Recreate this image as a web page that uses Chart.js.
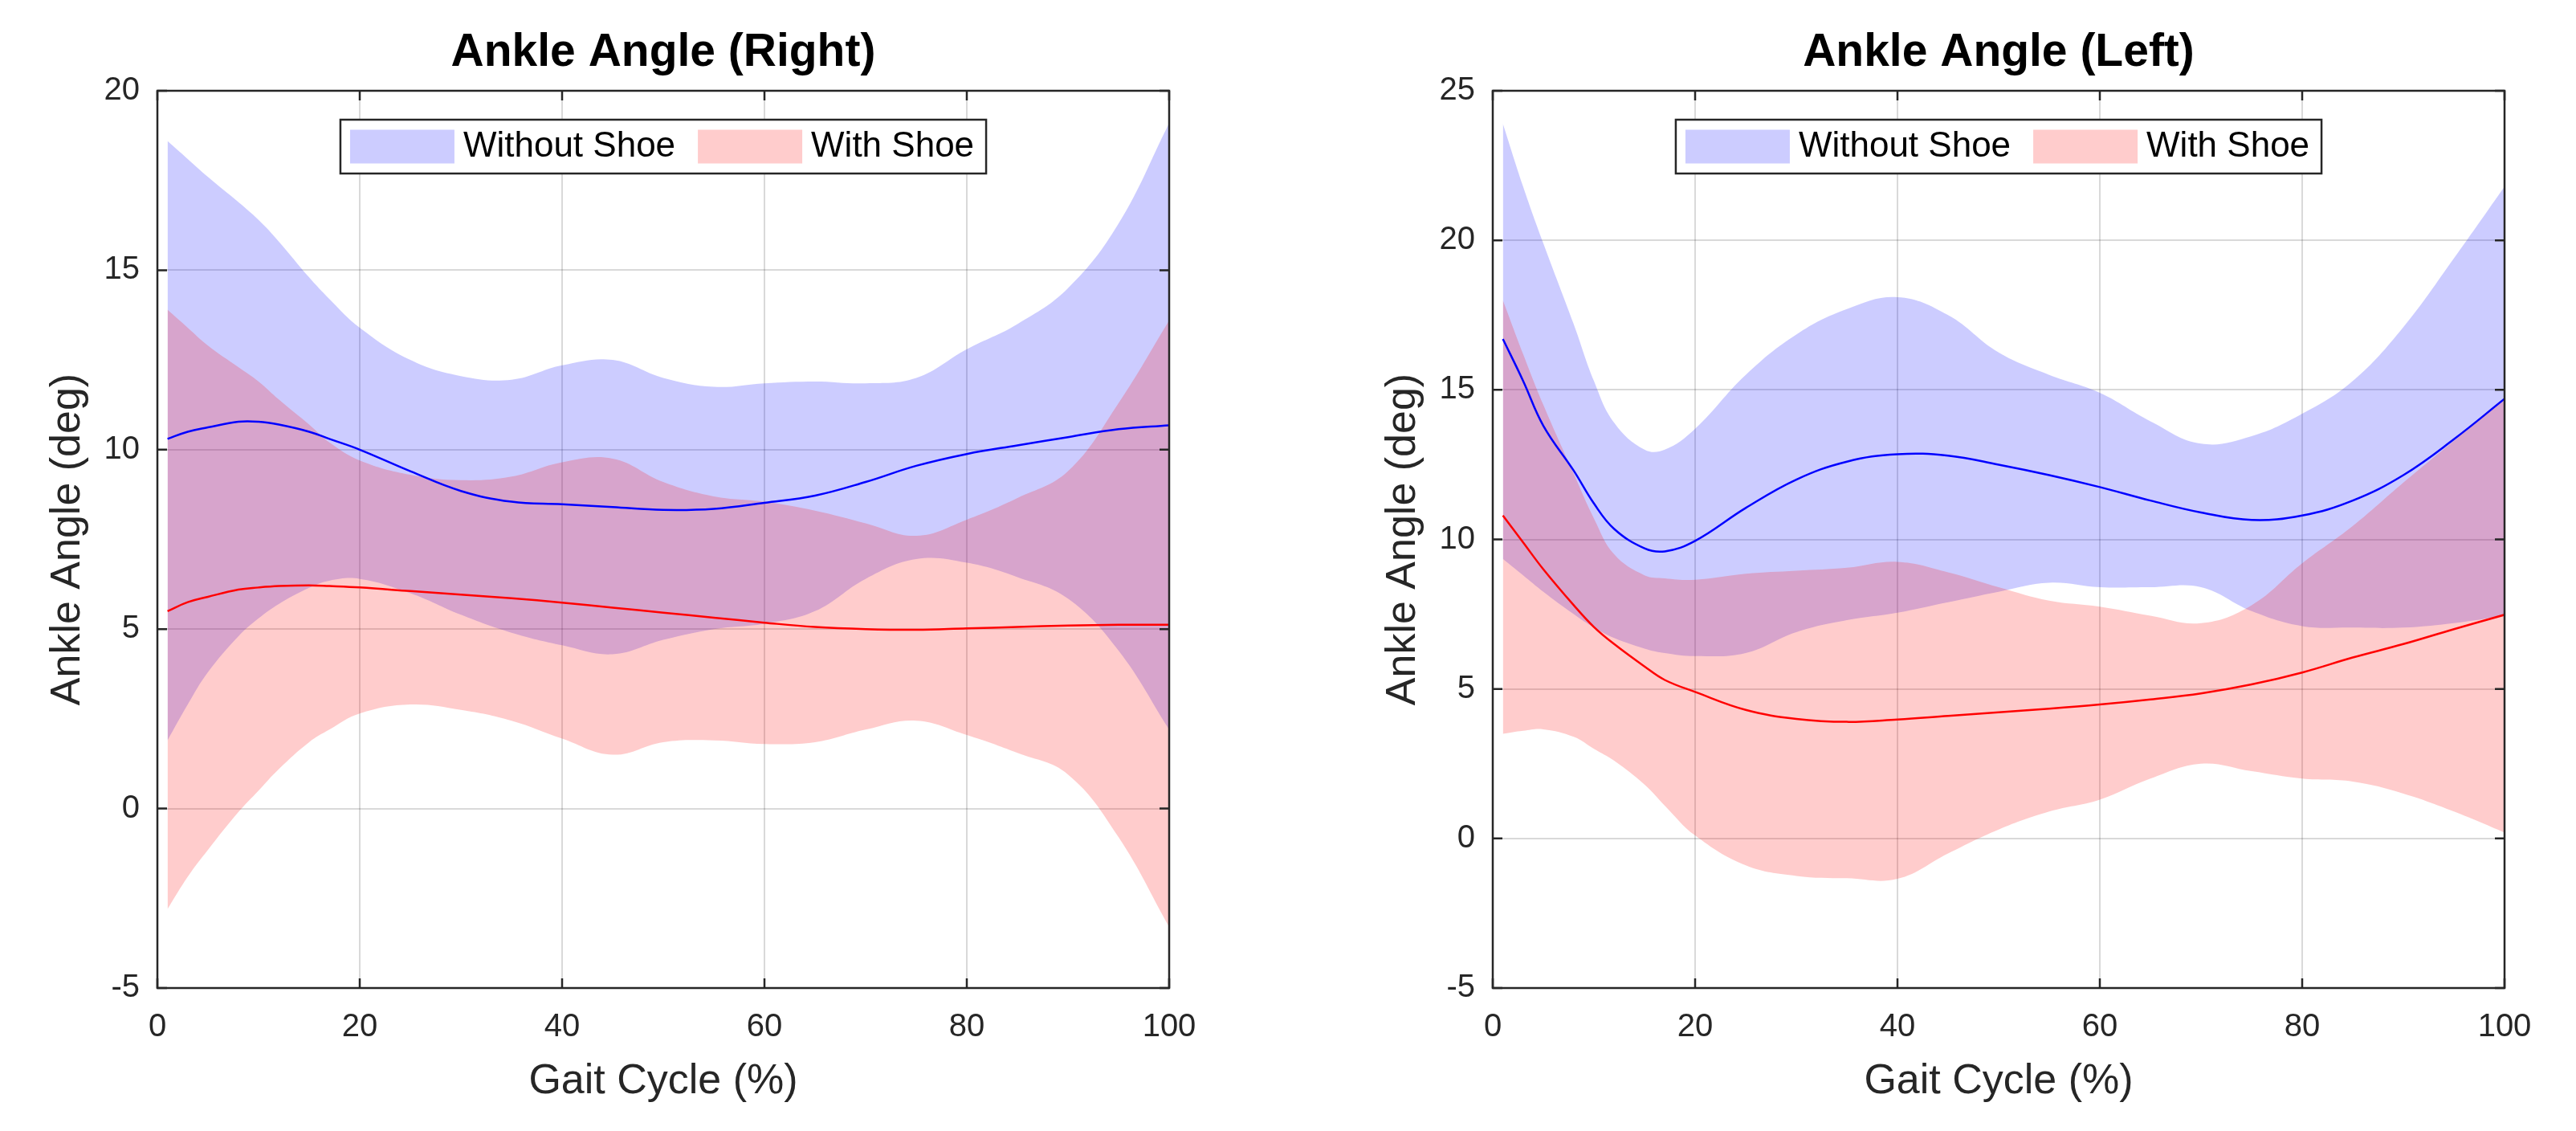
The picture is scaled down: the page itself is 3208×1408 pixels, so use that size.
<!DOCTYPE html>
<html>
<head>
<meta charset="utf-8">
<script src="https://cdn.jsdelivr.net/npm/chart.js@4"></script>
<style>
  html, body { margin: 0; padding: 0; background: #fff; }
  .panel { position: absolute; top: 0; width: 1545px; height: 1408px; }
</style>
</head>
<body>
<div class="panel" style="left:0"><canvas id="rightAnkle"></canvas></div>
<div class="panel" style="left:1663px"><canvas id="leftAnkle"></canvas></div>
<script>
    // gait cycle samples (%)
    const gait = [1, 3, 5, 8, 10, 12, 15, 17, 20, 25, 30, 35, 40, 45, 50, 55, 60, 65, 70, 75, 80, 85, 90, 95, 100];

    // Ankle Angle (Right)
    const rNoShoeUpper = [18.6, 18.1, 17.6, 16.9, 16.4, 15.8, 14.8, 14.2, 13.4, 12.5, 12.05, 11.95, 12.35, 12.5, 12.0, 11.75, 11.85, 11.9, 11.85, 12.0, 12.8, 13.5, 14.5, 16.3, 19.1];
    const rNoShoeLower = [1.9, 2.9, 3.8, 4.8, 5.3, 5.7, 6.15, 6.35, 6.4, 6.0, 5.4, 4.9, 4.55, 4.3, 4.7, 5.0, 5.15, 5.5, 6.4, 6.95, 6.85, 6.45, 5.85, 4.4, 2.2];
    const rNoShoeMean  = [10.3, 10.5, 10.62, 10.78, 10.78, 10.7, 10.5, 10.3, 10.0, 9.4, 8.85, 8.55, 8.48, 8.4, 8.32, 8.35, 8.52, 8.72, 9.1, 9.55, 9.88, 10.12, 10.35, 10.57, 10.68];
    const rShoeUpper   = [13.9, 13.4, 12.9, 12.3, 11.9, 11.4, 10.7, 10.2, 9.7, 9.3, 9.15, 9.25, 9.65, 9.75, 9.1, 8.7, 8.55, 8.3, 7.95, 7.6, 8.05, 8.65, 9.4, 11.3, 13.6];
    const rShoeLower   = [-2.8, -1.9, -1.15, -0.1, 0.5, 1.1, 1.85, 2.2, 2.65, 2.9, 2.75, 2.45, 1.95, 1.5, 1.85, 1.9, 1.8, 1.85, 2.2, 2.45, 2.05, 1.55, 0.95, -0.8, -3.3];
    const rShoeMean    = [5.5, 5.75, 5.9, 6.1, 6.16, 6.2, 6.22, 6.2, 6.16, 6.06, 5.96, 5.86, 5.74, 5.6, 5.46, 5.32, 5.18, 5.06, 5.0, 4.98, 5.02, 5.06, 5.1, 5.12, 5.12];

    // Ankle Angle (Left)
    const lNoShoeUpper = [23.9, 21.8, 19.9, 17.2, 15.3, 13.9, 13.0, 13.0, 13.7, 15.5, 16.85, 17.7, 18.1, 17.5, 16.25, 15.5, 14.9, 13.95, 13.2, 13.45, 14.2, 15.3, 17.1, 19.4, 21.8];
    const lNoShoeLower = [9.35, 8.8, 8.25, 7.5, 7.05, 6.7, 6.35, 6.2, 6.1, 6.2, 6.9, 7.3, 7.55, 7.9, 8.25, 8.55, 8.4, 8.4, 8.4, 7.6, 7.1, 7.05, 7.05, 7.2, 7.45];
    const lNoShoeMean  = [16.7, 15.3, 13.8, 12.3, 11.2, 10.35, 9.7, 9.6, 9.95, 11.05, 12.0, 12.6, 12.85, 12.8, 12.5, 12.15, 11.75, 11.3, 10.9, 10.65, 10.8, 11.3, 12.15, 13.35, 14.7];
    const lShoeUpper   = [18.0, 16.2, 14.5, 12.2, 10.7, 9.5, 8.8, 8.7, 8.65, 8.85, 8.95, 9.05, 9.25, 8.9, 8.4, 7.95, 7.75, 7.45, 7.2, 7.8, 9.2, 10.45, 11.9, 13.3, 14.7];
    const lShoeLower   = [3.5, 3.6, 3.65, 3.4, 3.0, 2.6, 1.8, 1.1, 0.1, -0.9, -1.25, -1.33, -1.35, -0.5, 0.3, 0.9, 1.3, 2.0, 2.5, 2.25, 2.0, 1.9, 1.5, 0.9, 0.2];
    const lShoeMean    = [10.8, 9.9, 9.0, 7.8, 7.07, 6.5, 5.75, 5.3, 4.9, 4.3, 4.0, 3.9, 3.98, 4.1, 4.22, 4.34, 4.48, 4.65, 4.85, 5.15, 5.55, 6.05, 6.5, 7.0, 7.48];

    const xTicks = { min: 0, max: 100, step: 20 };

    const FONT = '"Liberation Sans", Arial, Helvetica, sans-serif';
    Chart.defaults.font.family = FONT;

    const blueBand = 'rgba(0, 0, 255, 0.2)';
    const redBand = 'rgba(255, 0, 0, 0.2)';

    function pts(vals) {
        return vals.map((v, i) => ({ x: gait[i], y: v }));
    }

    // MATLAB style box with inward ticks
    const axesBox = {
        id: 'axesBox',
        afterDatasetsDraw(chart) {
            const { ctx, chartArea: a, scales } = chart;
            const t = 12;
            ctx.save();
            ctx.strokeStyle = '#262626';
            ctx.lineWidth = 2.5;
            ctx.beginPath();
            scales.x.ticks.forEach(tk => {
                const px = scales.x.getPixelForValue(tk.value);
                ctx.moveTo(px, a.bottom); ctx.lineTo(px, a.bottom - t);
                ctx.moveTo(px, a.top); ctx.lineTo(px, a.top + t);
            });
            scales.y.ticks.forEach(tk => {
                const py = scales.y.getPixelForValue(tk.value);
                ctx.moveTo(a.left, py); ctx.lineTo(a.left + t, py);
                ctx.moveTo(a.right, py); ctx.lineTo(a.right - t, py);
            });
            ctx.stroke();
            ctx.strokeRect(a.left, a.top, a.right - a.left, a.bottom - a.top);
            ctx.restore();
        }
    };

    // legend box inside the axes, top centre
    const boxLegend = {
        id: 'boxLegend',
        afterDraw(chart) {
            const ctx = chart.ctx, area = chart.chartArea;
            const items = chart.data.datasets.filter(d => d.legendEntry);
            ctx.save();
            ctx.font = '44px ' + FONT;
            const sw = 130, sh = 42, pad = 12, gap = 11, sep = 28, endPad = 15, h = 67;
            let w = pad;
            items.forEach((d, i) => {
                w += sw + gap + ctx.measureText(d.label).width + (i < items.length - 1 ? sep : endPad);
            });
            const x0 = (area.left + area.right) / 2 - w / 2;
            const y0 = area.top + 36;
            ctx.fillStyle = '#fff';
            ctx.fillRect(x0, y0, w, h);
            ctx.strokeStyle = '#262626';
            ctx.lineWidth = 2.5;
            ctx.strokeRect(x0, y0, w, h);
            let x = x0 + pad;
            items.forEach(d => {
                ctx.fillStyle = d.backgroundColor;
                ctx.fillRect(x, y0 + (h - sh) / 2, sw, sh);
                x += sw + gap;
                ctx.fillStyle = '#000';
                ctx.textBaseline = 'middle';
                ctx.textAlign = 'left';
                ctx.fillText(d.label, x, y0 + h / 2);
                x += ctx.measureText(d.label).width + sep;
            });
            ctx.restore();
        }
    };

    function makeChart(id, title, yMin, yMax, s) {
        const ctx = document.getElementById(id).getContext('2d');
        return new Chart(ctx, {
            type: 'line',
            data: {
                datasets: [
                    { label: 'noShoeLower', data: pts(s.noShoeLower), borderWidth: 0, fill: false, order: 3 },
                    { label: 'Without Shoe', legendEntry: true, data: pts(s.noShoeUpper), borderWidth: 0,
                      fill: '-1', backgroundColor: blueBand, order: 3 },
                    { label: 'shoeLower', data: pts(s.shoeLower), borderWidth: 0, fill: false, order: 2 },
                    { label: 'With Shoe', legendEntry: true, data: pts(s.shoeUpper), borderWidth: 0,
                      fill: '-1', backgroundColor: redBand, order: 2 },
                    { label: 'noShoeMean', data: pts(s.noShoeMean), borderColor: '#0000ff', borderWidth: 2.5, fill: false, order: 1 },
                    { label: 'shoeMean', data: pts(s.shoeMean), borderColor: '#ff0000', borderWidth: 2.5, fill: false, order: 0 }
                ]
            },
            options: {
                animation: false,
                responsive: true,
                maintainAspectRatio: false,
                layout: { padding: { left: 0, right: 89, top: 0, bottom: 0 } },
                elements: {
                    point: { radius: 0 },
                    line: { tension: 0.4 }
                },
                plugins: {
                    legend: { display: false },
                    tooltip: { enabled: false },
                    title: {
                        display: true,
                        text: title,
                        fullSize: false,
                        color: '#000',
                        font: { size: 57, weight: 'bold' },
                        padding: { top: 32, bottom: 12.6 }
                    }
                },
                scales: {
                    x: {
                        type: 'linear',
                        min: xTicks.min, max: xTicks.max,
                        afterFit: sc => { sc.height = 178; },
                        ticks: { stepSize: xTicks.step, color: '#262626', font: { size: 40 }, padding: 25, maxRotation: 0 },
                        grid: { color: 'rgba(0,0,0,0.15)', lineWidth: 2, drawTicks: false },
                        border: { display: false },
                        title: { display: true, text: 'Gait Cycle (%)', color: '#262626', font: { size: 52 }, padding: { top: 0, bottom: 30 } }
                    },
                    y: {
                        min: yMin, max: yMax,
                        afterFit: sc => { sc.width = 196; },
                        ticks: { stepSize: 5, color: '#262626', font: { size: 40 }, padding: 22 },
                        grid: { color: 'rgba(0,0,0,0.15)', lineWidth: 2, drawTicks: false },
                        border: { display: false },
                        title: { display: true, text: 'Ankle Angle (deg)', color: '#262626', font: { size: 52 }, padding: { top: 53, bottom: 0 } }
                    }
                }
            },
            plugins: [axesBox, boxLegend]
        });
    }

    makeChart('rightAnkle', 'Ankle Angle (Right)', -5, 20, {
        noShoeUpper: rNoShoeUpper, noShoeLower: rNoShoeLower, noShoeMean: rNoShoeMean,
        shoeUpper: rShoeUpper, shoeLower: rShoeLower, shoeMean: rShoeMean
    });

    makeChart('leftAnkle', 'Ankle Angle (Left)', -5, 25, {
        noShoeUpper: lNoShoeUpper, noShoeLower: lNoShoeLower, noShoeMean: lNoShoeMean,
        shoeUpper: lShoeUpper, shoeLower: lShoeLower, shoeMean: lShoeMean
    });
</script>
</body>
</html>
